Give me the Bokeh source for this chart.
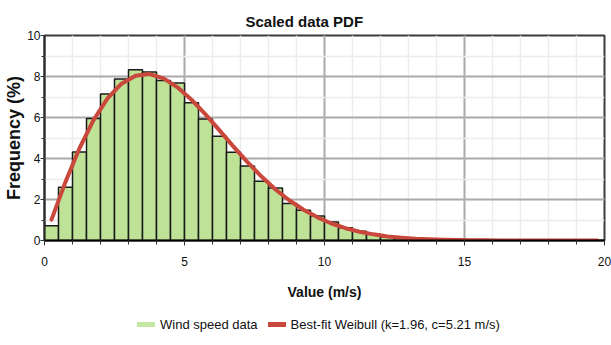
from bokeh.plotting import figure
from bokeh.layouts import column
from bokeh.models import (ColumnDataSource, Legend, LegendItem,
                          FixedTicker, Range1d)
from bokeh.embed import file_html
from bokeh.resources import INLINE

# ---------------- data ----------------
bin_centers = [0.25, 0.75, 1.25, 1.75, 2.25, 2.75, 3.25, 3.75, 4.25, 4.75,
               5.25, 5.75, 6.25, 6.75, 7.25, 7.75, 8.25, 8.75, 9.25, 9.75,
               10.25, 10.75, 11.25, 11.75, 12.25, 12.75, 13.25, 13.75, 14.25, 14.75,
               15.25, 15.75, 16.25, 16.75, 17.25, 17.75, 18.25, 18.75, 19.25, 19.75]
bin_width = 0.5
frequency_pct = [0.72, 2.60, 4.32, 5.95, 7.15, 7.88, 8.33, 8.22, 7.80, 7.68,
                 6.72, 5.93, 5.08, 4.30, 3.64, 2.89, 2.56, 1.80, 1.48, 1.20,
                 0.90, 0.62, 0.45, 0.30, 0.18, 0.10, 0.06, 0.03, 0.0, 0.0,
                 0.0, 0.0, 0.0, 0.0, 0.0, 0.0, 0.0, 0.0, 0.0, 0.0]
weibull_pct = [1.02, 2.86, 4.50, 5.87, 6.93, 7.65, 8.04, 8.12, 7.91, 7.47,
               6.87, 6.15, 5.37, 4.58, 3.82, 3.12, 2.49, 1.95, 1.50, 1.13,
               0.83, 0.60, 0.43, 0.30, 0.20, 0.14, 0.09, 0.06, 0.04, 0.02,
               0.01, 0.01, 0.0, 0.0, 0.0, 0.0, 0.0, 0.0, 0.0, 0.0]

x_major_ticks = [0, 5, 10, 15, 20]
x_minor_ticks = list(range(0, 21))
y_major_ticks = [0, 2, 4, 6, 8, 10]
y_minor_ticks = list(range(0, 11))

title_text = "Scaled data PDF"
x_label = "Value (m/s)"
y_label = "Frequency (%)"
series_names = ["Wind speed data", "Best-fit Weibull (k=1.96, c=5.21 m/s)"]

# ---------------- styling ----------------
FONT = "Liberation Sans, Arial, sans-serif"
BAR_FILL = "#bee396"
LEGEND_GREEN = "#c4e6a3"
CURVE_RED = "#c9473b"
TEXT = "#111111"

bars_src = ColumnDataSource(dict(x=bin_centers, top=frequency_pct))
curve_src = ColumnDataSource(dict(x=bin_centers, y=weibull_pct))

# ================= main chart =================
p = figure(width=611, height=305,
           x_range=Range1d(0, 20), y_range=Range1d(0, 10),
           output_backend="svg", toolbar_location=None,
           min_border_left=44, min_border_right=7,
           min_border_top=35, min_border_bottom=65)

p.background_fill_color = "white"
p.border_fill_color = "white"
p.outline_line_color = "#3c3c3c"
p.outline_line_width = 2

# title
p.title.text = title_text
p.title.align = "left"
p.title.offset = 201
p.title.text_font = FONT
p.title.text_font_size = "15px"
p.title.text_font_style = "bold"
p.title.text_color = TEXT
p.title.standoff = 12

# tickers
xt = FixedTicker(ticks=x_major_ticks, minor_ticks=x_minor_ticks)
yt = FixedTicker(ticks=y_major_ticks, minor_ticks=y_minor_ticks)
p.xaxis.ticker = xt
p.yaxis.ticker = yt
p.xgrid.ticker = xt
p.ygrid.ticker = yt

for g in (p.xgrid, p.ygrid):
    g.grid_line_color = "#ababab"
    g.grid_line_width = 2
    g.minor_grid_line_color = "#ececec"
    g.minor_grid_line_width = 1.5

# axes
p.xaxis.axis_line_color = "black"
p.xaxis.axis_line_width = 2
p.yaxis.axis_line_color = "#2a2a2a"
p.yaxis.axis_line_width = 2
for ax in (p.xaxis, p.yaxis):
    ax.major_tick_line_color = "#333333"
    ax.minor_tick_line_color = "#333333"
    ax.major_tick_line_width = 1
    ax.minor_tick_line_width = 1
    ax.major_tick_in = 0
    ax.minor_tick_in = 0
    ax.major_label_text_font = FONT
    ax.major_label_text_font_size = "12px"
    ax.major_label_text_color = TEXT
    ax.axis_label_text_font = FONT
    ax.axis_label_text_font_style = "bold"
    ax.axis_label_text_color = TEXT
p.xaxis.major_tick_out = 5
p.xaxis.minor_tick_out = 4
p.xaxis.major_label_standoff = 11
p.yaxis.major_tick_out = 4
p.yaxis.minor_tick_out = 3
p.yaxis.major_label_standoff = 0

p.xaxis.axis_label = x_label
p.xaxis.axis_label_text_font_size = "14px"
p.xaxis.axis_label_standoff = 15

p.yaxis.axis_label = y_label
p.yaxis.axis_label_text_font_size = "18px"
p.yaxis.axis_label_standoff = 0

# bars
p.vbar(x="x", top="top", bottom=0, width=bin_width, source=bars_src,
       fill_color=BAR_FILL, line_color="#1a1a1a", line_width=1.5)

# fitted curve
p.line(x="x", y="y", source=curve_src, line_color=CURVE_RED,
       line_width=4, line_join="round", line_cap="round")

# ================= legend strip =================
leg = figure(width=611, height=40,
             x_range=Range1d(0, 1), y_range=Range1d(50, 51),
             output_backend="svg", toolbar_location=None,
             x_axis_type=None, y_axis_type=None,
             min_border_left=0, min_border_right=0,
             min_border_top=0, min_border_bottom=0)
leg.grid.visible = False
leg.outline_line_color = None
leg.background_fill_color = "white"
leg.border_fill_color = "white"

# swatch renderers reuse the chart data; the strip's range keeps them off-screen
sw_data = leg.line(x="x", y="top", source=bars_src, line_color=LEGEND_GREEN,
                   line_width=5, line_cap="round")
sw_fit = leg.line(x="x", y="y", source=curve_src, line_color=CURVE_RED,
                  line_width=5, line_cap="round")

legend = Legend(items=[LegendItem(label=series_names[0], renderers=[sw_data]),
                       LegendItem(label=series_names[1], renderers=[sw_fit])],
                orientation="horizontal", location=(93, 13),
                padding=0, margin=0, spacing=10,
                glyph_width=18, glyph_height=16, label_height=16,
                label_standoff=5,
                label_text_font=FONT, label_text_font_size="13px",
                label_text_color=TEXT,
                border_line_alpha=0, background_fill_alpha=0)
leg.add_layout(legend, "center")

layout = column(p, leg, spacing=0)

with open("out.html", "w") as f:
    f.write(file_html(layout, INLINE))
